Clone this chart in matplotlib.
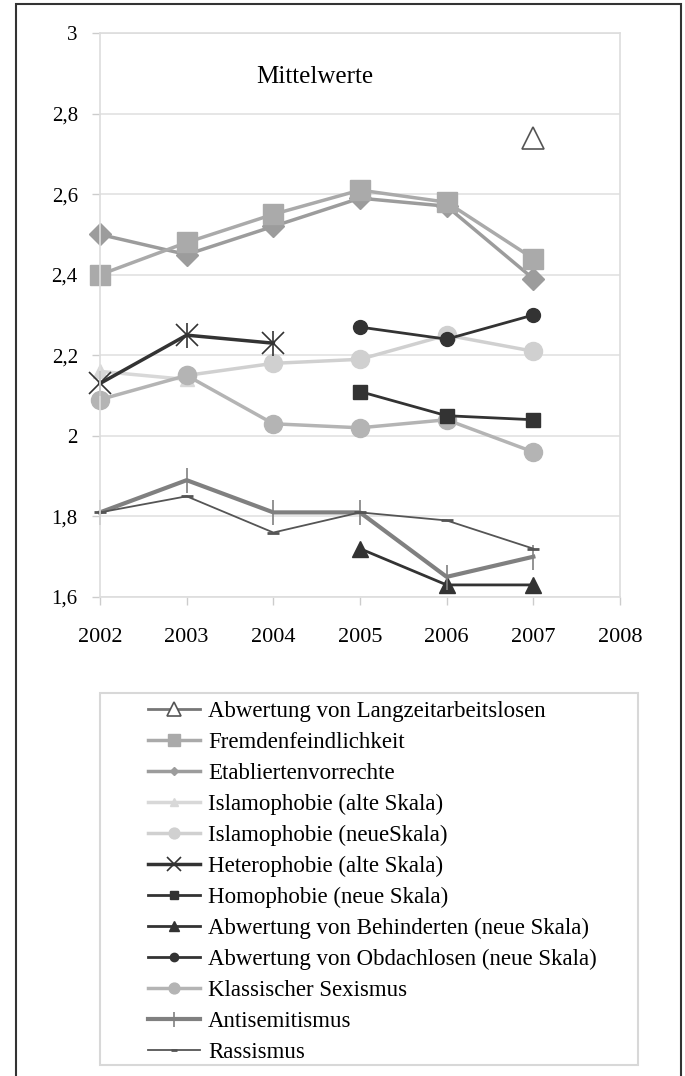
import matplotlib
matplotlib.use("Agg")
import matplotlib.pyplot as plt
from matplotlib.patches import Rectangle

plt.rcParams['font.family'] = ['Liberation Serif', 'DejaVu Serif']

# Mean values per survey year
langzeit_x = [2007]
langzeit_y = [2.74]
fremden_x = [2002, 2003, 2004, 2005, 2006, 2007]
fremden_y = [2.40, 2.48, 2.55, 2.61, 2.58, 2.44]
etabl_x = [2002, 2003, 2004, 2005, 2006, 2007]
etabl_y = [2.50, 2.45, 2.52, 2.59, 2.57, 2.39]
islam_alt_x = [2002, 2003]
islam_alt_y = [2.16, 2.14]
islam_neu_x = [2003, 2004, 2005, 2006, 2007]
islam_neu_y = [2.15, 2.18, 2.19, 2.25, 2.21]
hetero_x = [2002, 2003, 2004]
hetero_y = [2.13, 2.25, 2.23]
homo_x = [2005, 2006, 2007]
homo_y = [2.11, 2.05, 2.04]
behind_x = [2005, 2006, 2007]
behind_y = [1.72, 1.63, 1.63]
obdach_x = [2005, 2006, 2007]
obdach_y = [2.27, 2.24, 2.30]
sexismus_x = [2002, 2003, 2004, 2005, 2006, 2007]
sexismus_y = [2.09, 2.15, 2.03, 2.02, 2.04, 1.96]
antisem_x = [2002, 2003, 2004, 2005, 2006, 2007]
antisem_y = [1.81, 1.89, 1.81, 1.81, 1.65, 1.70]
rassismus_x = [2002, 2003, 2004, 2005, 2006, 2007]
rassismus_y = [1.81, 1.85, 1.76, 1.81, 1.79, 1.72]

years = [2002, 2003, 2004, 2005, 2006, 2007, 2008]
yticks = [1.6, 1.8, 2.0, 2.2, 2.4, 2.6, 2.8, 3.0]
ytick_labels = ['1,6', '1,8', '2', '2,2', '2,4', '2,6', '2,8', '3']

fig = plt.figure(figsize=(6.85, 10.76), dpi=100)
ax = fig.add_axes([100 / 685, 1 - 597 / 1076, 520 / 685, 564 / 1076])

kw = dict(clip_on=False)
ax.plot(langzeit_x, langzeit_y, '-^', color='#777777', lw=2, ms=16,
        mfc='white', mec='#555555', mew=1.2,
        label='Abwertung von Langzeitarbeitslosen', **kw)
ax.plot(etabl_x, etabl_y, '-D', color='#9c9c9c', lw=2.5, ms=11,
        mec='#9c9c9c', label='_etabl', **kw)
ax.plot(fremden_x, fremden_y, '-s', color='#aaaaaa', lw=2.5, ms=14,
        mec='#aaaaaa', label='Fremdenfeindlichkeit', **kw)
ax.plot(islam_alt_x, islam_alt_y, '-^', color='#d8d8d8', lw=2.5, ms=10,
        mec='#d8d8d8', label='Islamophobie (alte Skala)', **kw)
ax.plot(islam_neu_x, islam_neu_y, '-o', color='#d0d0d0', lw=2.5, ms=13,
        mec='#d0d0d0', label='Islamophobie (neueSkala)', **kw)
ax.plot(sexismus_x, sexismus_y, '-o', color='#b4b4b4', lw=2.5, ms=13,
        mec='#b4b4b4', label='Klassischer Sexismus', **kw)
ax.plot(hetero_x, hetero_y, '-x', color='#333333', lw=2.5, ms=16, mew=1.2,
        label='Heterophobie (alte Skala)', **kw)
ax.plot(hetero_x, hetero_y, '|', color='#333333', ms=18, mew=1.2, **kw)
ax.plot(homo_x, homo_y, '-s', color='#333333', lw=2, ms=10,
        label='Homophobie (neue Skala)', **kw)
ax.plot(behind_x, behind_y, '-^', color='#333333', lw=2, ms=11,
        label='Abwertung von Behinderten (neue Skala)', **kw)
ax.plot(obdach_x, obdach_y, '-o', color='#333333', lw=2, ms=10,
        label='Abwertung von Obdachlosen (neue Skala)', **kw)
ax.plot(antisem_x, antisem_y, '-|', color='#808080', lw=3, ms=18, mew=1.2,
        label='Antisemitismus', **kw)
ax.plot(rassismus_x, rassismus_y, '-_', color='#555555', lw=1.3, ms=8, mew=2,
        label='Rassismus', **kw)

ax.set_xlim(2002, 2008)
ax.set_ylim(1.6, 3.0)
ax.set_xticks(years)
ax.set_xticklabels([str(y) for y in years], fontsize=16)
ax.set_yticks(yticks)
ax.set_yticklabels(ytick_labels, fontsize=15)
ax.tick_params(axis='both', color='#cccccc', length=6, width=1, pad=10)
ax.tick_params(axis='x', pad=16)
ax.grid(axis='y', color='#e2e2e2', lw=1.2)
ax.set_axisbelow(True)
for s in ax.spines.values():
    s.set_color('#dddddd')
    s.set_linewidth(1.2)

ax.text(2004.48, 2.89, 'Mittelwerte', fontsize=18, ha='center', va='center')

# legend order as listed beneath the chart
handles, labels = ax.get_legend_handles_labels()
order = ['Abwertung von Langzeitarbeitslosen', 'Fremdenfeindlichkeit',
         'Etabliertenvorrechte', 'Islamophobie (alte Skala)',
         'Islamophobie (neueSkala)', 'Heterophobie (alte Skala)',
         'Homophobie (neue Skala)', 'Abwertung von Behinderten (neue Skala)',
         'Abwertung von Obdachlosen (neue Skala)', 'Klassischer Sexismus',
         'Antisemitismus', 'Rassismus']
etabl_handle, = ax.plot([], [], '-D', color='#9c9c9c', lw=2.5, ms=7)
lookup = dict(zip(labels, handles))
lookup['Etabliertenvorrechte'] = etabl_handle
leg_handles = [lookup[name] for name in order]

fig.legend(leg_handles, order, loc='upper left',
           bbox_to_anchor=(148 / 685, 1 - 701 / 1076), frameon=False,
           fontsize=16.5, handlelength=2.27, handletextpad=0.35,
           labelspacing=0.43, borderpad=0, borderaxespad=0, markerscale=0.6)

# legend frame and outer border
fig.add_artist(Rectangle((100 / 685, 1 - 1065 / 1076), 538 / 685, 372 / 1076,
                         transform=fig.transFigure, fill=False,
                         edgecolor='#d8d8d8', lw=1.5))
fig.add_artist(Rectangle((16 / 685, -0.01), 665 / 685, 1.01 - 4 / 1076,
                         transform=fig.transFigure, fill=False,
                         edgecolor='#333333', lw=1.5))

fig.savefig('out.png', dpi=100)
